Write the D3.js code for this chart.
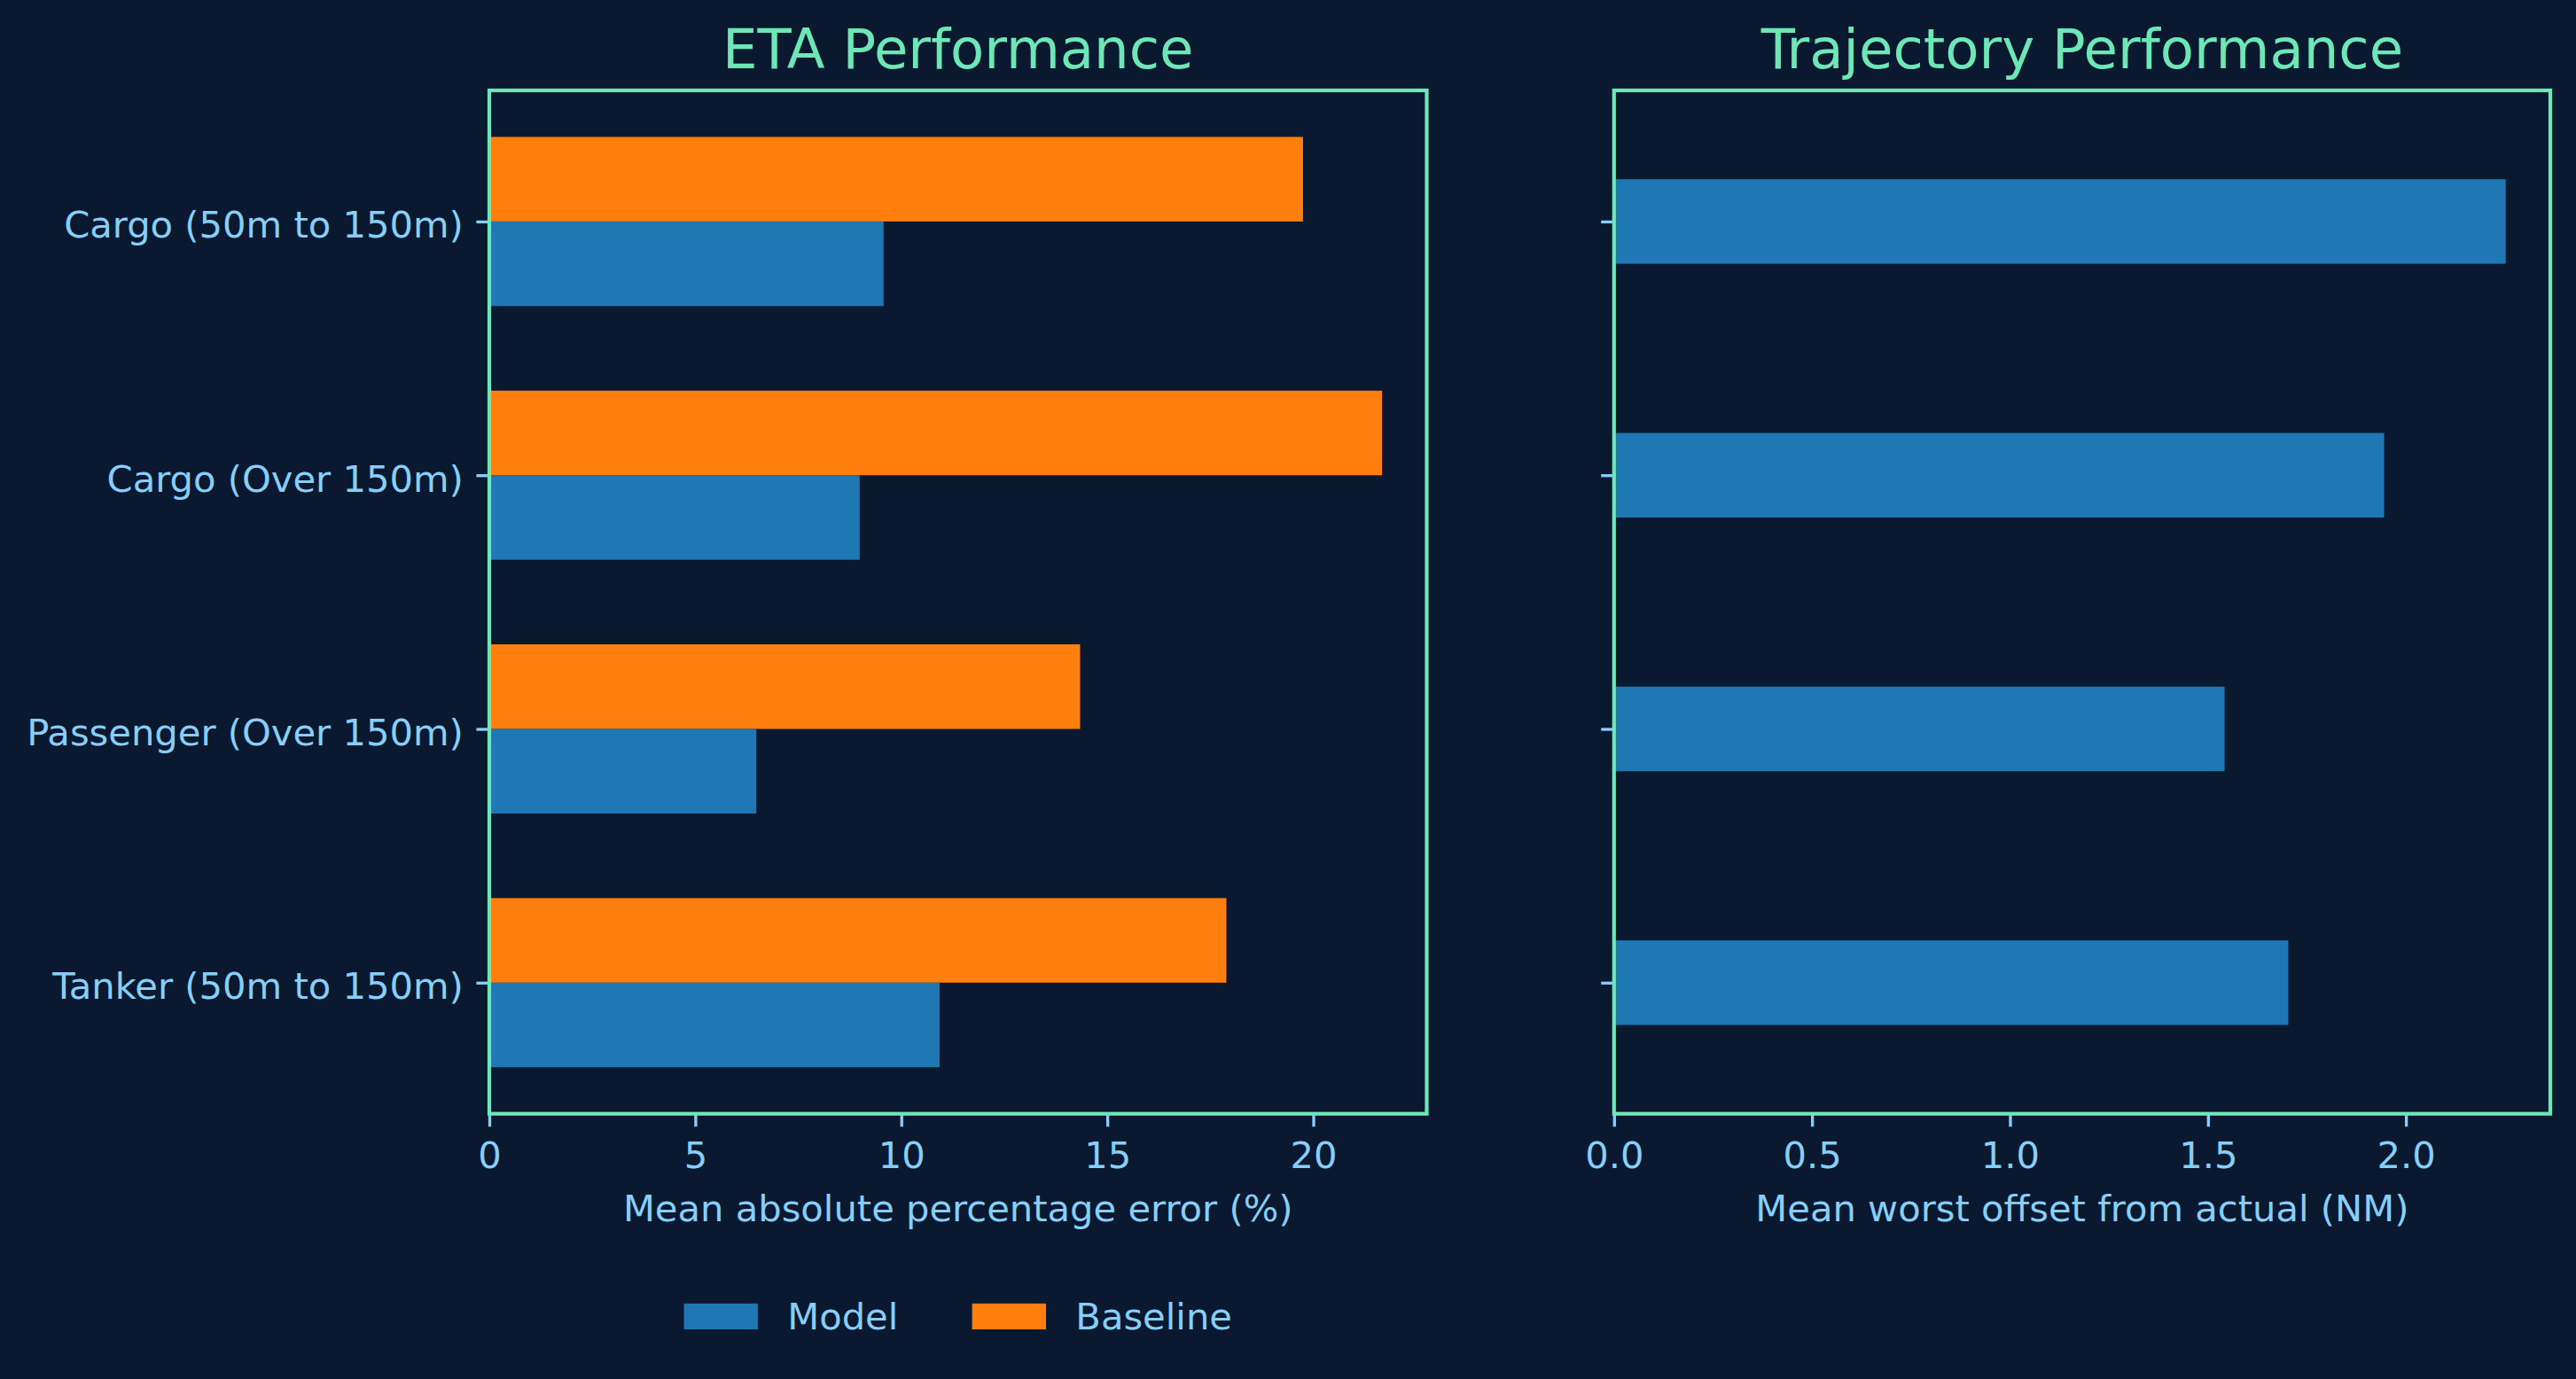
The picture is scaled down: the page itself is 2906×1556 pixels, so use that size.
<!DOCTYPE html>
<html>
<head>
<meta charset="utf-8">
<script src="https://cdn.jsdelivr.net/npm/d3@7"></script>
<style>
  html, body { margin: 0; padding: 0; background: #0a192f; }
  svg { display: block; }
  text { font-family: "DejaVu Sans", sans-serif; }
</style>
</head>
<body>
<svg id="chart" width="2906" height="1556"></svg>
<script>
// ---- Data ----
const categories = ["Cargo (50m to 150m)", "Cargo (Over 150m)", "Passenger (Over 150m)", "Tanker (50m to 150m)"];
const etaModel = [9.57, 8.99, 6.48, 10.93];
const etaBaseline = [19.75, 21.67, 14.34, 17.89];
const trajModel = [2.252, 1.945, 1.542, 1.703];
const etaTicks = [0, 5, 10, 15, 20];
const trajTicks = [0, 0.5, 1.0, 1.5, 2.0];
const seriesNames = ["Model", "Baseline"];

// ---- Style ----
const BG = "#0a192f";
const FRAME = "#6ee7b7";
const TEXT = "#87cefa";
const C_MODEL = "#1f77b4";
const C_BASE = "#ff7f0e";
const FS = 41.67, TFS = 62.5;
const TICK = 14.6, TICKW = 3.33, SPINE = 4.2;

const svg = d3.select("#chart");
svg.append("rect").attr("width", 2906).attr("height", 1556).attr("fill", BG);

const plotTop = 102, plotBottom = 1256.7;
const barH = 1 / 3;
const yMargin = 0.05 * ((categories.length - 1) + 2 * barH);
const y = d3.scaleLinear()
  .domain([-barH - yMargin, categories.length - 1 + barH + yMargin])
  .range([plotTop, plotBottom]);

function panel(x0, x1, maxVal, ticks, fmt, title, xlabel, showYLabels) {
  const x = d3.scaleLinear().domain([0, maxVal * 1.05]).range([x0, x1]);
  const g = svg.append("g");
  return { x, g, x0, x1, ticks, fmt, title, xlabel, showYLabels };
}

function finish(p) {
  const { x, g, x0, x1, ticks, fmt, title, xlabel, showYLabels } = p;
  // y ticks
  const yAxis = g.append("g").attr("transform", `translate(${x0},0)`)
    .call(d3.axisLeft(y).tickValues(d3.range(categories.length))
      .tickSize(TICK).tickSizeOuter(0).tickPadding(TICK)
      .tickFormat(i => showYLabels ? categories[i] : ""));
  yAxis.select(".domain").remove();
  yAxis.selectAll("line").attr("stroke", TEXT).attr("stroke-width", TICKW);
  yAxis.selectAll("text").attr("fill", TEXT).attr("font-size", FS)
    .attr("font-family", "DejaVu Sans").attr("dy", "0.43em");

  // x ticks
  const xAxis = g.append("g").attr("transform", `translate(0,${plotBottom})`)
    .call(d3.axisBottom(x).tickValues(ticks).tickFormat(fmt)
      .tickSize(TICK).tickSizeOuter(0).tickPadding(0));
  xAxis.select(".domain").remove();
  xAxis.selectAll("line").attr("stroke", TEXT).attr("stroke-width", TICKW);
  xAxis.selectAll("text").attr("fill", TEXT).attr("font-size", FS)
    .attr("font-family", "DejaVu Sans").attr("y", 1318 - plotBottom).attr("dy", 0);

  // frame
  g.append("rect").attr("x", x0).attr("y", plotTop)
    .attr("width", x1 - x0).attr("height", plotBottom - plotTop)
    .attr("fill", "none").attr("stroke", FRAME).attr("stroke-width", SPINE);

  // title
  g.append("text").attr("x", (x0 + x1) / 2).attr("y", 77)
    .attr("text-anchor", "middle").attr("fill", FRAME)
    .attr("font-size", TFS).text(title);
  // x label
  g.append("text").attr("x", (x0 + x1) / 2).attr("y", 1378)
    .attr("text-anchor", "middle").attr("fill", TEXT)
    .attr("font-size", FS).text(xlabel);
}

// ---- Left panel: ETA ----
const pL = panel(552, 1609.5, d3.max(etaModel.concat(etaBaseline)), etaTicks, d3.format("d"),
  "ETA Performance", "Mean absolute percentage error (%)", true);
pL.g.selectAll("rect.base").data(etaBaseline).join("rect").attr("class", "base")
  .attr("x", pL.x(0)).attr("y", (d, i) => y(i - barH))
  .attr("width", d => pL.x(d) - pL.x(0)).attr("height", y(barH) - y(0))
  .attr("fill", C_BASE);
pL.g.selectAll("rect.model").data(etaModel).join("rect").attr("class", "model")
  .attr("x", pL.x(0)).attr("y", (d, i) => y(i))
  .attr("width", d => pL.x(d) - pL.x(0)).attr("height", y(barH) - y(0))
  .attr("fill", C_MODEL);
finish(pL);

// ---- Right panel: Trajectory ----
const pR = panel(1820.8, 2877, d3.max(trajModel), trajTicks, d3.format(".1f"),
  "Trajectory Performance", "Mean worst offset from actual (NM)", false);
pR.g.selectAll("rect.model").data(trajModel).join("rect").attr("class", "model")
  .attr("x", pR.x(0)).attr("y", (d, i) => y(i - barH / 2))
  .attr("width", d => pR.x(d) - pR.x(0)).attr("height", y(barH) - y(0))
  .attr("fill", C_MODEL);
finish(pR);

// ---- Legend ----
const legendColors = [C_MODEL, C_BASE];
const lg = svg.append("g");
const handleW = 2 * FS, handleH = 0.7 * FS, textPad = 0.8 * FS, colSp = 2 * FS;
const items = seriesNames.map((name, i) => {
  const t = lg.append("text").attr("fill", TEXT).attr("font-size", FS).text(name);
  return { name, color: legendColors[i], t, w: t.node().getComputedTextLength() };
});
const totalW = d3.sum(items, d => handleW + textPad + d.w) + colSp * (items.length - 1);
let cx = (pL.x0 + pL.x1) / 2 - totalW / 2;
const legBase = 1500;
items.forEach(it => {
  lg.append("rect").attr("x", cx).attr("y", legBase - handleH)
    .attr("width", handleW).attr("height", handleH).attr("fill", it.color);
  it.t.attr("x", cx + handleW + textPad).attr("y", legBase);
  cx += handleW + textPad + it.w + colSp;
});
</script>
</body>
</html>
